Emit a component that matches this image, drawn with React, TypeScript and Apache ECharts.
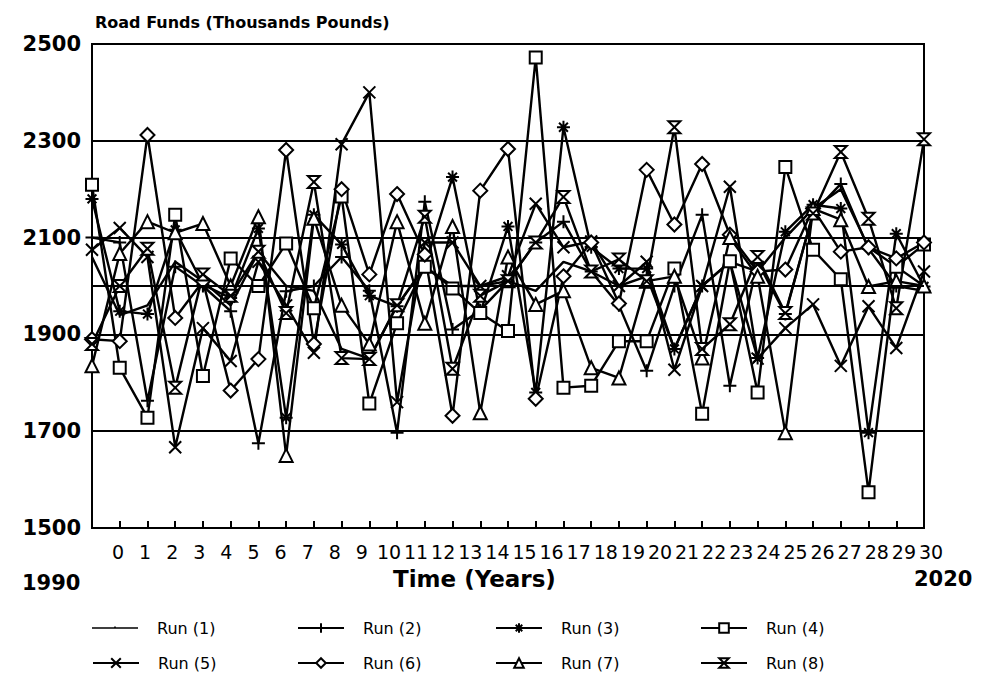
import React, { useEffect, useRef } from 'react';
import * as echarts from 'echarts';

const yearLabels = ['0','1','2','3','4','5','6','7','8','9','10','11','12','13','14','15','16','17','18','19','20','21','22','23','24','25','26','27','28','29','30'];
const runNames = ['Run (1)', 'Run (2)', 'Run (3)', 'Run (4)', 'Run (5)', 'Run (6)', 'Run (7)', 'Run (8)'];

const run1 = [2060,1940,1960,2050,2010,1960,2070,2000,1990,1870,1850,1960,2040,2000,2000,2010,1990,2050,2030,2000,2020,1870,2000,2050,2030,2100,2160,2200,2080,2040,2000];
const run2 = [2100,2090,1763,2040,2000,1948,1675,1989,2000,2060,1990,1697,2174,1910,1950,2010,2090,2133,2030,1960,1825,2000,2147,1794,2050,1942,2150,2211,2077,2000,1990];
const run3 = [2180,1948,1942,2116,2003,1975,2119,1728,2147,2086,1980,1958,2040,2225,1944,2123,1780,2328,2080,2036,2036,1870,2000,2050,1851,2112,2168,2160,1697,2108,1999];
const run4 = [2209,1831,1728,2147,1814,2057,2000,2088,1954,2185,1757,1923,2040,1995,1944,1907,2472,1790,1794,1886,1886,2036,1736,2051,1780,2246,2075,2014,1574,2040,2086];
const run5 = [2075,2120,2060,1667,1913,1845,2050,1960,1862,2293,2400,1760,2090,2090,2000,2020,2170,2080,2092,2000,2050,1827,2000,2205,1850,1913,1962,1835,1958,1872,2030];
const run6 = [1890,1886,2312,1934,2010,1784,1849,2281,1880,2200,2024,2190,2065,1732,2197,2283,1767,2020,2090,1964,2240,2127,2252,2106,2030,2034,2160,2071,2080,2057,2090];
const run7 = [1835,2067,2133,2110,2129,2000,2143,1650,2140,1960,1880,2133,1923,2123,1738,2060,1962,1990,1831,1810,2010,2020,1851,2100,2020,1697,2160,2137,1999,2010,2000];
const run8 = [1880,2000,2077,1790,2024,1980,2071,1944,2215,1851,1849,1960,2143,1829,1980,2010,2090,2184,2030,2055,2010,2328,1870,1921,2060,1944,2150,2277,2139,1954,2303];
const runValues = [run1, run2, run3, run4, run5, run6, run7, run8];

const yTicks = [1500, 1700, 1900, 2100, 2300, 2500];
const meanLevel = 2000;

const PLUS = 'path://M5,0L5,10M0,5L10,5';
const STAR = 'path://M5,0L5,10M0,5L10,5M1.6,1.6L8.4,8.4M8.4,1.6L1.6,8.4';
const CROSS = 'path://M0,0L10,10M10,0L0,10';
const HOURGLASS = 'path://M0,0L10,0L0,10L10,10Z';
const PLAIN_LEGEND = 'path://M0,0L0.01,0L0.01,0.01ZM0,5.2L46,5.2L46,6.8L0,6.8ZM22.2,4.4L23.8,4.4L23.8,6L22.2,6ZM45.99,11.99L46,11.99L46,12Z';
const symbols = ['none', PLUS, STAR, 'rect', CROSS, 'diamond', 'triangle', HOURGLASS];
const symbolSizes = [0, 13, 13, 12, 12, 14, 13, 12];

const FONT = 'DejaVu Sans';

export default function App() {
  const ref = useRef<HTMLDivElement>(null);
  useEffect(() => {
    if (!ref.current) return;
    const chart = echarts.init(ref.current, undefined, { renderer: 'svg' });
    const series: any[] = runNames.map((name, i) => ({
      name,
      type: 'line',
      xAxisIndex: 0,
      yAxisIndex: 0,
      data: runValues[i].map((v, k) => [Number(yearLabels[k]), v]),
      symbol: symbols[i],
      symbolSize: symbolSizes[i],
      showSymbol: i !== 0,
      lineStyle: { color: '#000', width: 2.4 },
      itemStyle: { color: '#fff', borderColor: '#000', borderWidth: 2 },
      emphasis: { disabled: true },
      z: 3,
    }));
    series[0].markLine = {
      silent: true,
      symbol: ['none', 'none'],
      label: { show: false },
      lineStyle: { color: '#000', width: 2, type: 'solid' },
      data: [{ yAxis: meanLevel }],
    };
    const legendLeft = [92, 297, 495, 700];
    const legends = runNames.map((name, i) => {
      const base: any = {
        data: [name],
        left: legendLeft[i % 4],
        top: i < 4 ? 620 : 655,
        padding: 0,
        itemWidth: 46,
        itemHeight: 12,
        selectedMode: false,
        textStyle: { fontSize: 16, fontFamily: FONT, color: '#000', padding: [0, 0, 0, 14] },
      };
      if (i === 0) {
        base.data = [{ name, icon: PLAIN_LEGEND, itemStyle: { color: '#000', borderWidth: 0 } }];
      }
      return base;
    });
    chart.setOption({
      animation: false,
      backgroundColor: '#fff',
      title: {
        text: 'Road Funds (Thousands Pounds)',
        left: 90,
        top: 9,
        textStyle: { fontSize: 16, fontWeight: 'bold', fontFamily: FONT, color: '#000' },
      },
      legend: legends,
      grid: [
        { left: 92, right: 65, top: 44, bottom: 150, show: true, borderColor: '#000', borderWidth: 2, backgroundColor: 'transparent' },
        { left: 118, right: 58, top: 44, bottom: 150 },
      ],
      xAxis: [
        {
          gridIndex: 0, type: 'value', min: 0, max: 30, interval: 1,
          axisLine: { lineStyle: { color: '#000', width: 2 } },
          axisTick: { show: true, inside: true, length: 7, lineStyle: { color: '#000', width: 2 } },
          axisLabel: { show: false },
          splitLine: { show: false },
        },
        {
          gridIndex: 1, type: 'value', min: 0, max: 30, interval: 1,
          axisLine: { show: false }, axisTick: { show: false }, splitLine: { show: false },
          axisLabel: { fontSize: 19, fontFamily: FONT, color: '#000', margin: 14,
            formatter: (v: number) => yearLabels[v] ?? '' },
        },
      ],
      yAxis: [
        {
          gridIndex: 0, type: 'value', min: yTicks[0], max: yTicks[yTicks.length - 1], interval: 200,
          axisLine: { show: true, lineStyle: { color: '#000', width: 2 } },
          axisTick: { show: false },
          axisLabel: { fontSize: 21, fontWeight: 'bold', fontFamily: FONT, color: '#000', margin: 11,
            formatter: (v: number) => String(v) },
          splitLine: { show: true, lineStyle: { color: '#000', width: 2 } },
        },
        { gridIndex: 1, type: 'value', min: 0, max: 1, show: false },
      ],
      graphic: [
        { type: 'text', left: 22, top: 572, style: { text: '1990', fontSize: 21, fontWeight: 'bold', fontFamily: FONT, fill: '#000' } },
        { type: 'text', left: 914, top: 568, style: { text: '2020', fontSize: 21, fontWeight: 'bold', fontFamily: FONT, fill: '#000' } },
        { type: 'text', left: 393, top: 567, style: { text: 'Time (Years)', fontSize: 23, fontWeight: 'bold', fontFamily: FONT, fill: '#000' } },
      ],
      series,
    });
    return () => chart.dispose();
  }, []);
  return <div ref={ref} style={{ position: 'fixed', left: 0, top: 0, width: 989, height: 678, background: '#fff' }} />;
}
